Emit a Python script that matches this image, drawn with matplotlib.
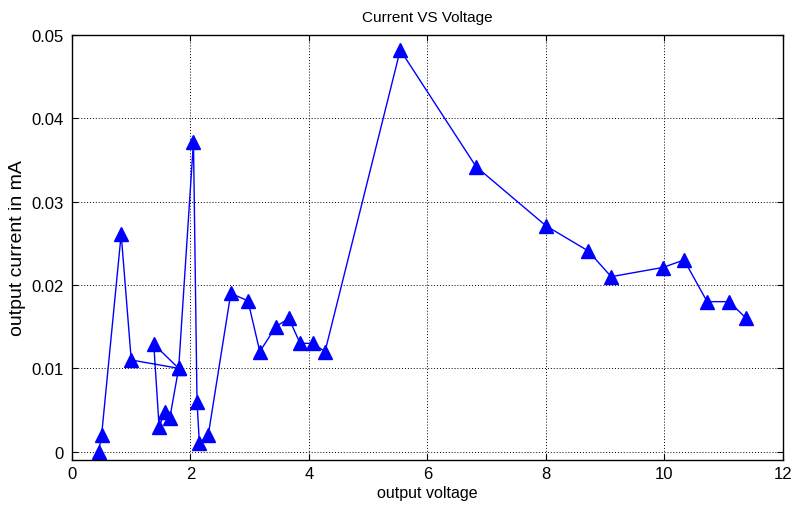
import matplotlib
matplotlib.use("Agg")
import matplotlib.pyplot as plt

voltage = [0.45, 0.50, 0.83, 1.00, 1.80, 1.38, 1.47, 1.57, 1.65, 1.80, 2.05, 2.11, 2.15, 2.30,
           2.68, 2.97, 3.17, 3.44, 3.66, 3.85, 4.07, 4.27, 5.54, 6.82, 8.00, 8.71, 9.10,
           9.97, 10.33, 10.72, 11.09, 11.38]
current = [0.0000, 0.0020, 0.0261, 0.0110, 0.0100, 0.0129, 0.0030, 0.0048, 0.0040, 0.0100, 0.0372,
           0.0060, 0.0010, 0.0020, 0.0190, 0.0181, 0.0120, 0.0150, 0.0160, 0.0130, 0.0130, 0.0120,
           0.0482, 0.0342, 0.0271, 0.0241, 0.0210, 0.0221, 0.0230, 0.0180, 0.0180, 0.0160]
xticks = [0, 2, 4, 6, 8, 10, 12]
yticks = [0, 0.01, 0.02, 0.03, 0.04, 0.05]
ytick_labels = ["0", "0.01", "0.02", "0.03", "0.04", "0.05"]

plt.rcParams['font.family'] = ['Liberation Sans', 'DejaVu Sans']

fig = plt.figure(figsize=(7.94, 5.06), dpi=100)
ax = fig.add_axes([72/794, 1-461/506, (783-72)/794, (461-36)/506])

ax.plot(voltage, current, color='blue', linewidth=1.0, marker='^',
        markersize=9.5, markerfacecolor='blue', markeredgecolor='blue')

ax.set_xlim(0, 12)
ax.set_ylim(-0.001, 0.05)
ax.set_xticks(xticks)
ax.set_xticklabels([str(t) for t in xticks])
ax.set_yticks(yticks)
ax.set_yticklabels(ytick_labels)
ax.tick_params(axis='both', direction='in', top=True, right=True, labelsize=12, length=4, width=0.8)
ax.tick_params(axis='x', pad=4)
ax.tick_params(axis='y', pad=6)
ax.grid(True, linestyle=(0, (1, 2)), color='black', linewidth=0.7)
for s in ax.spines.values():
    s.set_linewidth(1.0)

ax.set_title("Current VS Voltage", fontsize=11, pad=10)
ax.set_xlabel("output voltage", fontsize=11.5, labelpad=3)
ax.set_ylabel("output current in mA", fontsize=14, labelpad=4)

fig.savefig("out.png", dpi=100)
